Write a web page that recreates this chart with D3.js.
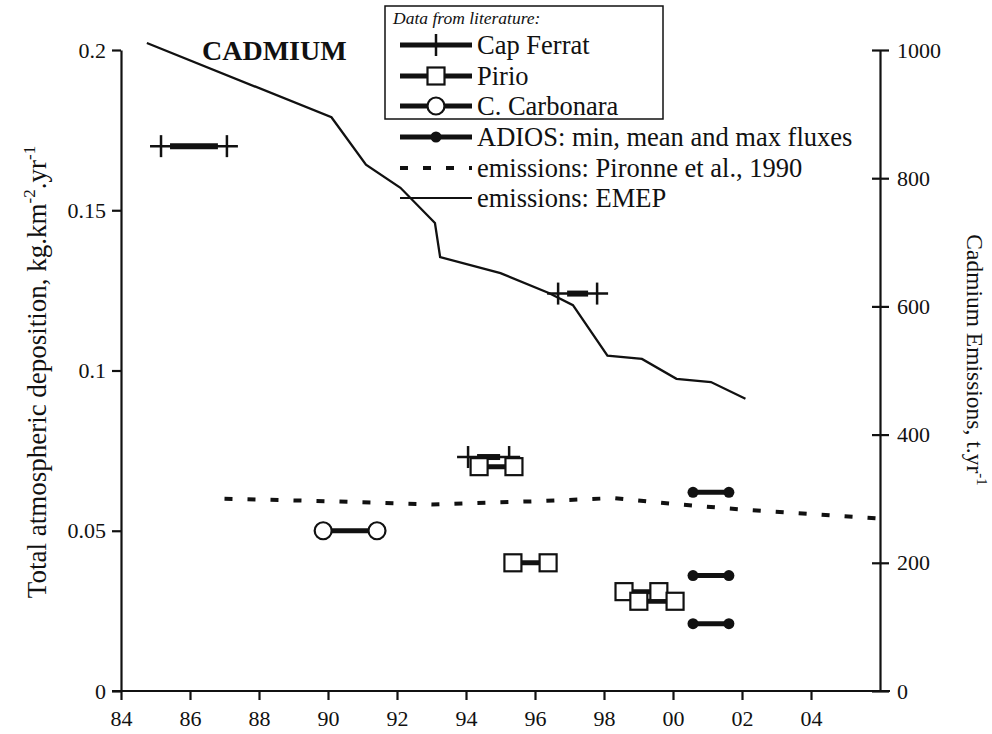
<!DOCTYPE html>
<html><head><meta charset="utf-8">
<script src="https://cdn.jsdelivr.net/npm/d3@7"></script>
<style>body{margin:0;background:#fff}svg{display:block}svg text{font-family:"Liberation Serif","DejaVu Serif",serif !important;fill:#111}</style>
</head><body>
<script>
// ---- data ----
const xTicks = [84,86,88,90,92,94,96,98,100,102,104];
const xTickLabels = ["84","86","88","90","92","94","96","98","00","02","04"];
const leftTicks = [0,0.05,0.1,0.15,0.2];
const leftTickLabels = ["0","0.05","0.1","0.15","0.2"];
const rightTicks = [0,200,400,600,800,1000];
// EMEP emissions (t/yr)
const emepYears = [84.75,90.1,91.1,92.1,93.1,93.25,95.0,96.4,97.1,98.1,99.1,100.1,101.1,102.1];
const emepValues = [1011,895,821,785,730,677,652,621,602,523,518,487,482,456];
// Pirrone et al. 1990 emissions (t/yr)
const pirroneYears = [87,90,93,96,98.3,100,102,106];
const pirroneValues = [300,296,291,296,301,292,283,269];
// deposition fluxes: start year, end year, value
const capFerratStart = [85.16,96.67,94.06];
const capFerratEnd   = [87.07,97.8,95.25];
const capFerratValue = [0.170,0.124,0.073];
const pirioStart = [94.38,95.36,98.58,99.01];
const pirioEnd   = [95.39,96.38,99.59,100.06];
const pirioValue = [0.070,0.040,0.031,0.028];
const carbonaraStart = [89.86];
const carbonaraEnd   = [91.42];
const carbonaraValue = [0.050];
const adiosStart = [100.58,100.58,100.58];
const adiosEnd   = [101.62,101.62,101.62];
const adiosValue = [0.062,0.036,0.021];
const legendLabels = ["Cap Ferrat","Pirio","C. Carbonara","ADIOS: min, mean and max fluxes","emissions: Pironne et al., 1990","emissions: EMEP"];

// ---- layout ----
const W=992,H=734;
const svg=d3.select("body").append("svg").attr("width",W).attr("height",H);
const x=d3.scaleLinear().domain([84,106]).range([121,880]);
const yL=d3.scaleLinear().domain([0,0.2]).range([691,50]);
const yR=d3.scaleLinear().domain([0,1000]).range([691,50]);

// axes
const gx=svg.append("g").attr("transform","translate(0,691)")
  .call(d3.axisBottom(x).tickValues(xTicks).tickFormat((d,i)=>xTickLabels[i]).tickSize(9).tickPadding(6).tickSizeOuter(0));
const gl=svg.append("g").attr("transform","translate(121,0)")
  .call(d3.axisLeft(yL).tickValues(leftTicks).tickFormat((d,i)=>leftTickLabels[i]).tickSize(9).tickPadding(6).tickSizeOuter(0));
const gr=svg.append("g").attr("transform","translate(880,0)")
  .call(d3.axisRight(yR).tickValues(rightTicks).tickFormat(d3.format("d")).tickSize(9).tickPadding(8).tickSizeOuter(0));
gr.selectAll(".tick line").attr("x1",-8);
[gx,gl,gr].forEach(g=>{
  g.attr("font-family",null);
  g.select(".domain").attr("stroke","#111").attr("stroke-width",2.2);
  g.selectAll(".tick line").attr("stroke","#111").attr("stroke-width",2.2);
  g.selectAll(".tick text").attr("font-size",22).attr("fill","#111");
});
gx.select(".domain").attr("d","M112,0H890");
gx.selectAll(".tick text").attr("dy","0.9em");

// axis titles
const lt=svg.append("text").attr("transform","translate(46,372) rotate(-90)").attr("text-anchor","middle").attr("font-size",27);
lt.append("tspan").text("Total atmospheric deposition, kg.km");
lt.append("tspan").attr("font-size",17).attr("dy",-11).text("-2");
lt.append("tspan").attr("dy",11).text(".yr");
lt.append("tspan").attr("font-size",17).attr("dy",-11).text("-1");
const rt=svg.append("text").attr("transform","translate(967,360) rotate(90)").attr("text-anchor","middle").attr("font-size",23.5);
rt.append("tspan").text("Cadmium Emissions, t.yr");
rt.append("tspan").attr("font-size",15).attr("dy",-10).text("-1");

svg.append("text").attr("x",202).attr("y",60).attr("font-size",28).attr("font-weight","bold").text("CADMIUM");

// emission lines
const emep=emepYears.map((d,i)=>[d,emepValues[i]]);
svg.append("path").attr("d",d3.line().x(d=>x(d[0])).y(d=>yR(d[1]))(emep))
  .attr("fill","none").attr("stroke","#111").attr("stroke-width",2.3);
const pir=pirroneYears.map((d,i)=>[d,pirroneValues[i]]);
svg.append("path").attr("d",d3.line().x(d=>x(d[0])).y(d=>yR(d[1]))(pir))
  .attr("fill","none").attr("stroke","#111").attr("stroke-width",4).attr("stroke-dasharray","8,15");

// marker helpers
function plusMark(g,cx,cy){
  g.append("line").attr("x1",cx).attr("x2",cx).attr("y1",cy-11).attr("y2",cy+11).attr("stroke","#111").attr("stroke-width",2.5);
}
function drawCap(g,x1,x2,cy){
  g.append("line").attr("x1",x1-11).attr("x2",x2+11).attr("y1",cy).attr("y2",cy).attr("stroke","#111").attr("stroke-width",2.5);
  g.append("line").attr("x1",x1+9).attr("x2",x2-9).attr("y1",cy).attr("y2",cy).attr("stroke","#111").attr("stroke-width",6);
  plusMark(g,x1,cy);plusMark(g,x2,cy);
}
function sq(g,cx,cy){
  g.append("rect").attr("x",cx-8.5).attr("y",cy-8.5).attr("width",17).attr("height",17).attr("fill","#fff").attr("stroke","#111").attr("stroke-width",2.2);
}
function circ(g,cx,cy){
  g.append("circle").attr("cx",cx).attr("cy",cy).attr("r",8.5).attr("fill","#fff").attr("stroke","#111").attr("stroke-width",2.2);
}
function dot(g,cx,cy){
  g.append("circle").attr("cx",cx).attr("cy",cy).attr("r",5.5).attr("fill","#111");
}
function thick(g,x1,x2,cy){
  g.append("line").attr("x1",x1).attr("x2",x2).attr("y1",cy).attr("y2",cy).attr("stroke","#111").attr("stroke-width",5);
}

const gm=svg.append("g");
capFerratStart.forEach((s,i)=>drawCap(gm,x(s),x(capFerratEnd[i]),yL(capFerratValue[i])));
pirioStart.forEach((s,i)=>thick(gm,x(s),x(pirioEnd[i]),yL(pirioValue[i])));
pirioStart.forEach((s,i)=>{sq(gm,x(s),yL(pirioValue[i]));sq(gm,x(pirioEnd[i]),yL(pirioValue[i]));});
carbonaraStart.forEach((s,i)=>{thick(gm,x(s),x(carbonaraEnd[i]),yL(carbonaraValue[i]));circ(gm,x(s),yL(carbonaraValue[i]));circ(gm,x(carbonaraEnd[i]),yL(carbonaraValue[i]));});
adiosStart.forEach((s,i)=>{thick(gm,x(s),x(adiosEnd[i]),yL(adiosValue[i]));dot(gm,x(s),yL(adiosValue[i]));dot(gm,x(adiosEnd[i]),yL(adiosValue[i]));});

// legend
const lg=svg.append("g");
lg.append("rect").attr("x",385).attr("y",6).attr("width",278).attr("height",113).attr("fill","#fff").attr("stroke","#111").attr("stroke-width",1.5);
lg.append("text").attr("x",393).attr("y",24).attr("font-size",17.5).attr("font-style","italic").text("Data from literature:");
const rowY=[45,76,106,137,168,198];
const lx1=400,lx2=472,lc=436;
thick(lg,lx1,lx2,rowY[0]);plusMark(lg,lc,rowY[0]);
thick(lg,lx1,lx2,rowY[1]);sq(lg,lc,rowY[1]);
thick(lg,lx1,lx2,rowY[2]);circ(lg,lc,rowY[2]);
thick(lg,lx1,lx2,rowY[3]);dot(lg,lc,rowY[3]);
lg.append("line").attr("x1",lx1).attr("x2",lx2).attr("y1",rowY[4]).attr("y2",rowY[4]).attr("stroke","#111").attr("stroke-width",4).attr("stroke-dasharray","8,15");
lg.append("line").attr("x1",lx1).attr("x2",lx2).attr("y1",rowY[5]).attr("y2",rowY[5]).attr("stroke","#111").attr("stroke-width",2);
legendLabels.forEach((t,i)=>lg.append("text").attr("x",477).attr("y",rowY[i]).attr("dy","0.35em").attr("font-size",26.5).text(t));
</script>
</body></html>
